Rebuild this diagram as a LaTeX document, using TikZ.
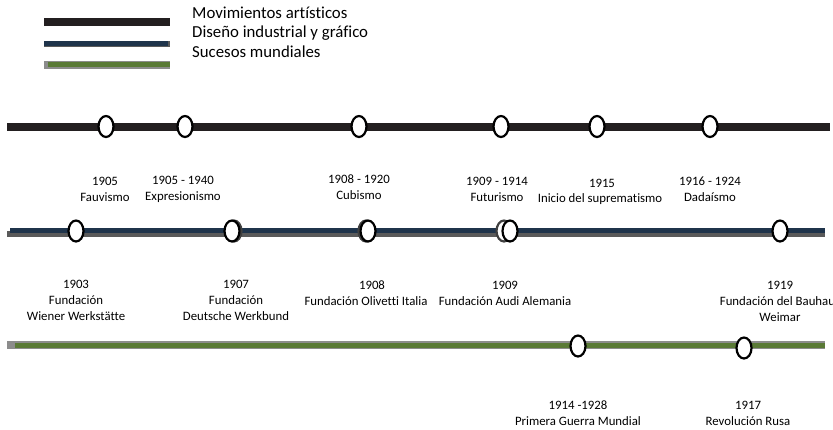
\documentclass[tikz,border=0pt]{standalone}
\usepackage{fontspec}
\setmainfont{Carlito}[Ligatures=NoCommon]
\usetikzlibrary{shapes.geometric,calc}
\definecolor{lineblack}{HTML}{231F20}
\definecolor{lineblue}{HTML}{1F344B}
\definecolor{linegreen}{HTML}{5A7A36}
\definecolor{shadowgrey}{HTML}{5A5A5A}
\definecolor{lightgrey}{HTML}{8C8C8C}
\tikzset{
  evt/.style={ellipse, draw=black, fill=white, line width=2.2pt, minimum width=15pt, minimum height=21pt, inner sep=0pt},
  evtshadow/.style={ellipse, draw=black!75, fill=white, line width=2.2pt, minimum width=15pt, minimum height=21pt, inner sep=0pt},
  lbl/.style={align=center, font=\fontsize{12.8}{16}\selectfont, inner sep=0pt},
  leg/.style={anchor=west, font=\fontsize{16.8}{19}\selectfont, inner sep=0pt},
}
\begin{document}
\begin{tikzpicture}[x=1pt,y=-1pt]
\useasboundingbox (0,0) rectangle (833,429);
% legend
\draw[lineblack, line width=7.5pt] (44,22) -- (170,22);
\draw[shadowgrey, line width=6.5pt] (44,44) -- (170,44);
\draw[lineblue, line width=5pt] (44,43) -- (168,43);
\draw[lightgrey, line width=8pt] (44,65) -- (170,65);
\draw[linegreen, line width=5pt] (48,64.5) -- (170,64.5);
\node[leg] (l1) at (192,13) {Movimientos artísticos};
\node[leg] (l2) at (192,33) {Diseño industrial y gráfico};
\node[leg] (l3) at (192,52) {Sucesos mundiales};
% line 1: movimientos
\coordinate (a0) at (7,126.5);
\coordinate (a1) at (830,126.5);
\draw[lineblack, line width=8pt] (a0) -- (a1);
\node[evt] (m1) at (106,126.5) {};
\node[evt] (m2) at (185,126.5) {};
\node[evt] (m3) at (359,126.5) {};
\node[evt] (m4) at (501,126.5) {};
\node[evt] (m5) at (597,126.5) {};
\node[evt] (m6) at (710,126.5) {};
\node[lbl] (t1) at (105,189) {1905\\Fauvismo};
\node[lbl] (t2) at (183,189) {1905 - 1940\\Expresionismo};
\node[lbl] (t3) at (359,187) {1908 - 1920\\Cubismo};
\node[lbl] (t4) at (497,189) {1909 - 1914\\Futurismo};
\node[lbl] (t5a) at (602,183) {1915};
\node[lbl] (t5b) at (600,199) {Inicio del\ suprematismo};
\node[lbl] (t6) at (710,189) {1916 - 1924\\Dadaísmo};
% line 2: diseño
\coordinate (b0) at (7,232);
\coordinate (b1) at (825,232);
\draw[shadowgrey, line width=6pt] ($(b0)+(0,1.5)$) -- ($(b1)+(0,1.5)$);
\draw[lineblue, line width=5pt] (10,230.5) -- (825,230.5);
\node[evtshadow] (d3s) at (366,231) {};
\node[evtshadow] (d4s) at (504,231) {};
\node[evtshadow] (d2s) at (234,231) {};
\node[evt] (d1) at (76,231) {};
\node[evt] (d2) at (232,231) {};
\node[evt] (d3) at (368,231) {};
\node[evt] (d4) at (510,231) {};
\node[evt] (d5) at (780,231) {};
\node[lbl] (u1) at (76,300) {1903\\Fundación\\Wiener\ Werkstätte};
\node[lbl] (u2) at (236,300) {1907\\Fundación\\Deutsche\ Werkbund};
\node[lbl] (u3a) at (372,285) {1908};
\node[lbl] (u3b) at (366,301) {Fundación Olivetti Italia};
\node[lbl] (u4) at (505,293) {1909\\Fundación Audi\ Alemania};
\node[lbl] (u5) at (780,301) {1919\\Fundación del Bauhaus\\Weimar};
% line 3: sucesos
\coordinate (c0) at (7,345);
\coordinate (c1) at (825,345);
\draw[lightgrey, line width=8.5pt] (c0) -- (c1);
\draw[linegreen, line width=5pt] (15,345.5) -- (825,345.5);
\node[evt] (s1) at (578,346) {};
\node[evt] (s2) at (744,348) {};
\node[lbl] (v1) at (578,413) {1914 -1928\\Primera Guerra Mundial};
\node[lbl] (v2) at (748,413) {1917\\Revolución Rusa};
\end{tikzpicture}
\end{document}
